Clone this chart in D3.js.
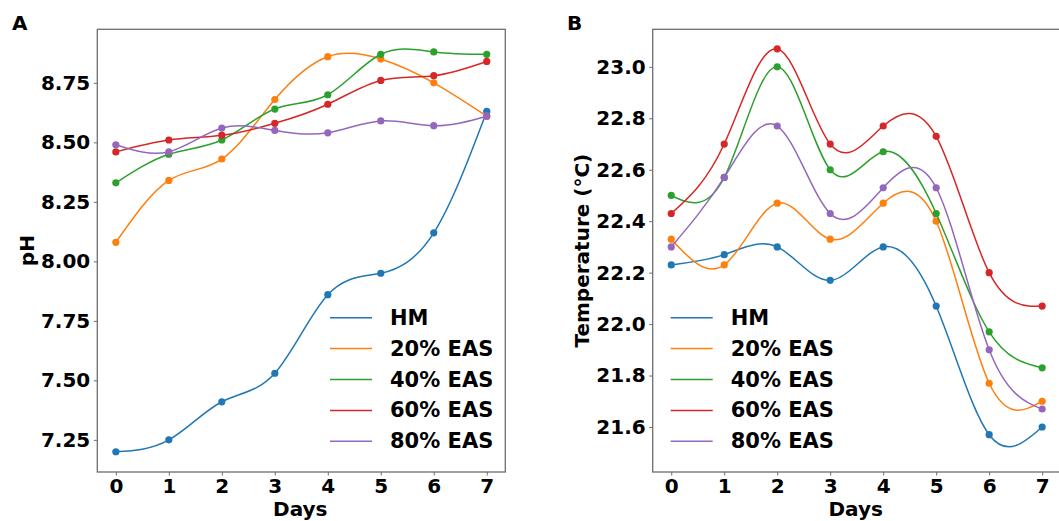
<!DOCTYPE html>
<html>
<head>
<meta charset="utf-8">
<script src="https://cdn.jsdelivr.net/npm/d3@7"></script>
<style>
  body { margin: 0; background: #fff; }
  text { font-family: "DejaVu Sans", sans-serif; font-weight: bold; }
</style>
</head>
<body>
<svg id="chart" width="1059" height="521"></svg>
<script>
// data
const days = [0, 1, 2, 3, 4, 5, 6, 7];
const seriesNames = ['HM', '20% EAS', '40% EAS', '60% EAS', '80% EAS'];
const colors = ['#1f77b4', '#ff7f0e', '#2ca02c', '#d62728', '#9467bd'];

const phHM  = [7.20, 7.25, 7.41, 7.53, 7.86, 7.95, 8.12, 8.63];
const ph20  = [8.08, 8.34, 8.43, 8.68, 8.86, 8.85, 8.75, 8.61];
const ph40  = [8.33, 8.45, 8.51, 8.64, 8.70, 8.87, 8.88, 8.87];
const ph60  = [8.46, 8.51, 8.53, 8.58, 8.66, 8.76, 8.78, 8.84];
const ph80  = [8.49, 8.46, 8.56, 8.55, 8.54, 8.59, 8.57, 8.61];

const tempHM = [22.23, 22.27, 22.30, 22.17, 22.30, 22.07, 21.57, 21.60];
const temp20 = [22.33, 22.23, 22.47, 22.33, 22.47, 22.40, 21.77, 21.70];
const temp40 = [22.50, 22.57, 23.00, 22.60, 22.67, 22.43, 21.97, 21.83];
const temp60 = [22.43, 22.70, 23.07, 22.70, 22.77, 22.73, 22.20, 22.07];
const temp80 = [22.30, 22.57, 22.77, 22.43, 22.53, 22.53, 21.90, 21.67];

const phTicks = [7.25, 7.50, 7.75, 8.00, 8.25, 8.50, 8.75];
const tempTicks = [21.6, 21.8, 22.0, 22.2, 22.4, 22.6, 22.8, 23.0];

const svg = d3.select('#chart');
svg.append('rect').attr('width', 1059).attr('height', 521).attr('fill', '#fff');

const panels = [
  { label: 'A', ylabel: 'pH', series: [phHM, ph20, ph40, ph60, ph80],
    x0: 97.3, x1: 505.3, yDomain: [7.115, 8.975], ticks: phTicks, fmt: d3.format('.2f'),
    labelX: 12, ylabelX: 27, legendX: 330 },
  { label: 'B', ylabel: 'Temperature (°C)', series: [tempHM, temp20, temp40, temp60, temp80],
    x0: 652.7, x1: 1060.7, yDomain: [21.425, 23.146], ticks: tempTicks, fmt: d3.format('.1f'),
    labelX: 567, ylabelX: 582, legendX: 670.7 }
];
const plotTop = 29.3, plotBottom = 472;

panels.forEach(p => {
  const x = d3.scaleLinear().domain([-0.35, 7.35]).range([p.x0, p.x1]);
  const y = d3.scaleLinear().domain(p.yDomain).range([plotBottom, plotTop]);
  const g = svg.append('g');

  const line = d3.line().x((d, i) => x(days[i])).y(d => y(d)).curve(d3.curveNatural);

  p.series.forEach((vals, si) => {
    g.append('path').datum(vals)
      .attr('d', line)
      .attr('fill', 'none')
      .attr('stroke', colors[si])
      .attr('stroke-width', 1.5);
    g.selectAll(null).data(vals).enter().append('circle')
      .attr('cx', (d, i) => x(days[i]))
      .attr('cy', d => y(d))
      .attr('r', 3.6)
      .attr('fill', colors[si]);
  });

  // frame
  g.append('rect')
    .attr('x', p.x0).attr('y', plotTop)
    .attr('width', p.x1 - p.x0).attr('height', plotBottom - plotTop)
    .attr('fill', 'none').attr('stroke', '#6e6e6e').attr('stroke-width', 1.3);

  const xAxis = g.append('g')
    .attr('transform', `translate(0,${plotBottom})`)
    .call(d3.axisBottom(x).tickValues(days).tickSize(3.5).tickPadding(3.5).tickFormat(d3.format('d')));
  const yAxis = g.append('g')
    .attr('transform', `translate(${p.x0},0)`)
    .call(d3.axisLeft(y).tickValues(p.ticks).tickSize(3.5).tickPadding(3.5).tickFormat(p.fmt));
  [xAxis, yAxis].forEach(a => {
    a.select('.domain').remove();
    a.selectAll('line').attr('stroke', '#6e6e6e').attr('stroke-width', 1);
    a.selectAll('text').attr('font-size', 20).attr('fill', '#000')
      .style('font-family', '"DejaVu Sans", sans-serif').style('font-weight', 'bold');
  });

  svg.append('text')
    .attr('x', p.labelX).attr('y', 30)
    .attr('font-size', 20).text(p.label);

  svg.append('text')
    .attr('x', (p.x0 + p.x1) / 2 - 1).attr('y', 516)
    .attr('text-anchor', 'middle').attr('font-size', 20).text('Days');

  svg.append('text')
    .attr('transform', `translate(${p.ylabelX},${(plotTop + plotBottom) / 2}) rotate(-90)`)
    .attr('text-anchor', 'middle').attr('dominant-baseline', 'central')
    .attr('font-size', 20).text(p.ylabel);

  // legend, lines only
  seriesNames.forEach((name, si) => {
    const ly = 317.7 + si * 30.9;
    svg.append('line')
      .attr('x1', p.legendX).attr('x2', p.legendX + 42)
      .attr('y1', ly).attr('y2', ly)
      .attr('stroke', colors[si]).attr('stroke-width', 1.5);
    svg.append('text')
      .attr('x', p.legendX + 60).attr('y', ly)
      .attr('dominant-baseline', 'central')
      .attr('font-size', 21).text(name);
  });
});
</script>
</body>
</html>
